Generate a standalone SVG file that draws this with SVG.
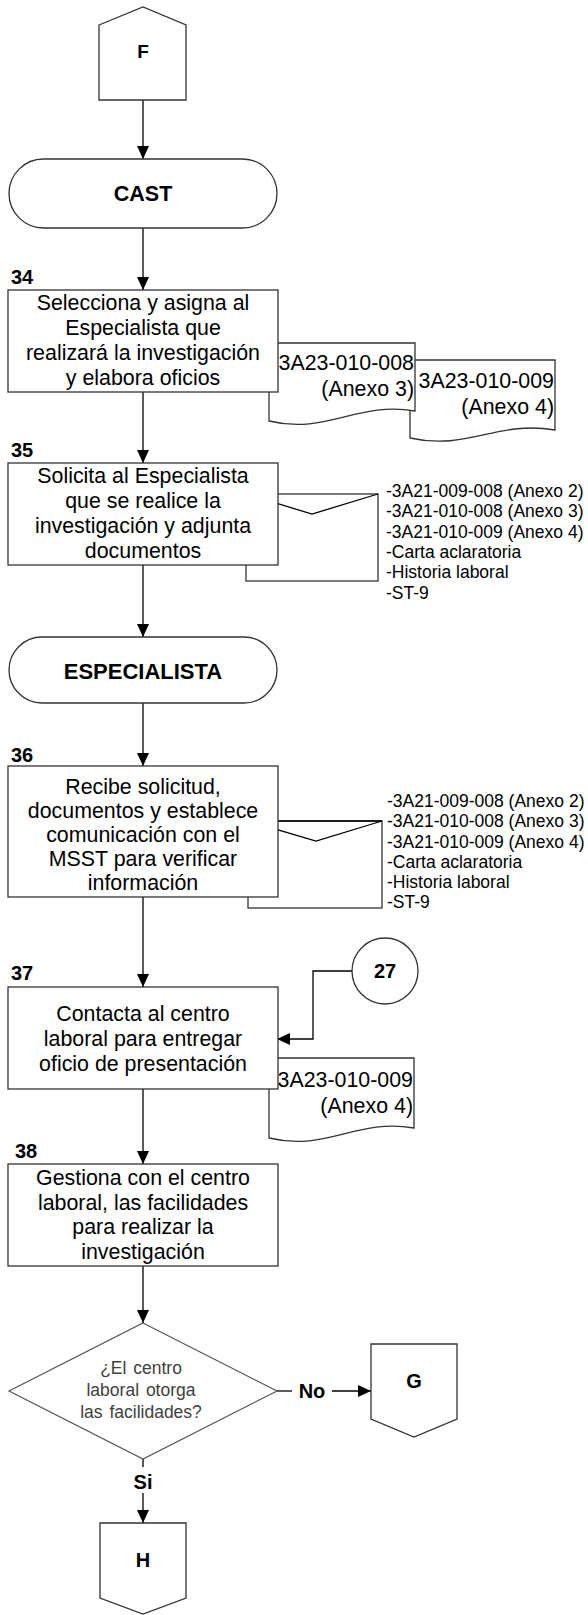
<svg xmlns="http://www.w3.org/2000/svg" width="588" height="1615" viewBox="0 0 588 1615">
  <defs>
    <marker id="arrow" viewBox="0 0 13 12" refX="13" refY="6" markerWidth="13" markerHeight="12" markerUnits="userSpaceOnUse" orient="auto">
      <path d="M0,0 L13,6 L0,12 Z" fill="#000"/>
    </marker>
    <style>
      .shape { fill: #fff; stroke: #333; stroke-width: 1.3; }
      .soft { fill: #fff; stroke: #555; stroke-width: 1.2; }
      .line { fill: none; stroke: #000; stroke-width: 1.3; }
      .flow { fill: none; stroke: #000; stroke-width: 1.3; marker-end: url(#arrow); }
      .txt { font-family: "Liberation Sans", Arial, sans-serif; font-size: 22.5px; fill: #000; text-anchor: middle; }
      .doc { font-family: "Liberation Sans", Arial, sans-serif; font-size: 22.5px; fill: #000; text-anchor: end; }
      .list { font-family: "Liberation Sans", Arial, sans-serif; font-size: 17.5px; fill: #000; }
      .q { font-family: "Liberation Sans", Arial, sans-serif; font-size: 17.5px; fill: #404040; text-anchor: middle; word-spacing: 2px; }
      .bold { font-family: "Liberation Sans", Arial, sans-serif; font-weight: bold; fill: #000; text-anchor: middle; }
      .num { font-family: "Liberation Sans", Arial, sans-serif; font-weight: bold; font-size: 20px; fill: #000; }
    </style>
  </defs>

  <!-- connectors -->
  <g id="connectors">
    <line class="flow" x1="143" y1="100" x2="143" y2="159"/>
    <line class="flow" x1="143" y1="228" x2="143" y2="290"/>
    <line class="flow" x1="143" y1="392" x2="143" y2="463"/>
    <line class="flow" x1="143" y1="565" x2="143" y2="637"/>
    <line class="flow" x1="143" y1="703" x2="143" y2="766"/>
    <line class="flow" x1="143" y1="897" x2="143" y2="987"/>
    <line class="flow" x1="143" y1="1089" x2="143" y2="1164"/>
    <line class="flow" x1="143" y1="1266" x2="143" y2="1323"/>
    <line class="line" x1="143" y1="1459" x2="143" y2="1467"/>
    <line class="flow" x1="143" y1="1493" x2="143" y2="1523"/>
    <line class="line" x1="277" y1="1391" x2="292" y2="1391"/>
    <line class="flow" x1="332" y1="1391" x2="371" y2="1391"/>
    <path class="flow" d="M352,971 H313 V1039 H277"/>
    <text class="bold" x="143" y="1489" font-size="20">Si</text>
    <text class="bold" x="312" y="1398" font-size="20">No</text>
  </g>

  <!-- off-page connector F -->
  <g id="node-F">
    <polygon class="shape" points="99,25 143,7 186,25 186,100 99,100"/>
    <text class="bold" x="143" y="58" font-size="19">F</text>
  </g>

  <!-- CAST terminal -->
  <g id="node-CAST">
    <rect class="shape" x="9" y="159" width="268" height="69" rx="34.5" ry="34.5"/>
    <text class="bold" x="143" y="201" font-size="21.5">CAST</text>
  </g>

  <!-- step 34 with its two documents -->
  <g id="node-34-docs">
    <path class="shape" d="M410,360 H555 V430 C497,420 468,451 410,438 Z"/>
    <g transform="translate(554 0) scale(0.95 1)">
      <text class="doc" x="0" y="388">3A23-010-009</text>
      <text class="doc" x="0" y="414">(Anexo 4)</text>
    </g>
    <path class="shape" d="M269,343 H415 V411 C357,401 327,435 269,421 Z"/>
    <g transform="translate(414 0) scale(0.95 1)">
      <text class="doc" x="0" y="370">3A23-010-008</text>
      <text class="doc" x="0" y="396">(Anexo 3)</text>
    </g>
  </g>
  <g id="node-34">
    <text class="num" x="11" y="284">34</text>
    <rect class="shape" x="8" y="290" width="270" height="102"/>
    <g transform="translate(143 0) scale(0.95 1)">
      <text class="txt" x="0" y="310">Selecciona y asigna al</text>
      <text class="txt" x="0" y="335">Especialista que</text>
      <text class="txt" x="0" y="360">realizará la investigación</text>
      <text class="txt" x="0" y="385">y elabora oficios</text>
    </g>
  </g>

  <!-- step 35 with mail envelope -->
  <g id="node-35-mail">
    <rect class="shape" x="246" y="494" width="132" height="87"/>
    <polyline class="line" points="246,494 312,514 378,494" stroke="#555"/>
    <text class="list" x="386" y="497">-3A21-009-008 (Anexo 2)</text>
    <text class="list" x="386" y="517">-3A21-010-008 (Anexo 3)</text>
    <text class="list" x="386" y="538">-3A21-010-009 (Anexo 4)</text>
    <text class="list" x="386" y="558">-Carta aclaratoria</text>
    <text class="list" x="386" y="578">-Historia laboral</text>
    <text class="list" x="386" y="599">-ST-9</text>
  </g>
  <g id="node-35">
    <text class="num" x="11" y="457">35</text>
    <rect class="shape" x="8" y="463" width="270" height="102"/>
    <g transform="translate(143 0) scale(0.95 1)">
      <text class="txt" x="0" y="483">Solicita al Especialista</text>
      <text class="txt" x="0" y="508">que se realice la</text>
      <text class="txt" x="0" y="533">investigación y adjunta</text>
      <text class="txt" x="0" y="558">documentos</text>
    </g>
  </g>

  <!-- ESPECIALISTA terminal -->
  <g id="node-ESPECIALISTA">
    <rect class="shape" x="9" y="637" width="268" height="66" rx="33" ry="33"/>
    <text class="bold" x="143" y="679" font-size="22">ESPECIALISTA</text>
  </g>

  <!-- step 36 with mail envelope -->
  <g id="node-36-mail">
    <rect class="shape" x="248" y="821" width="134" height="87"/>
    <line class="line" x1="248" y1="821" x2="382" y2="821" stroke-width="2.2"/>
    <polyline class="line" points="248,821 316,841 382,821" stroke="#555"/>
    <text class="list" x="387" y="807">-3A21-009-008 (Anexo 2)</text>
    <text class="list" x="387" y="827">-3A21-010-008 (Anexo 3)</text>
    <text class="list" x="387" y="848">-3A21-010-009 (Anexo 4)</text>
    <text class="list" x="387" y="868">-Carta aclaratoria</text>
    <text class="list" x="387" y="888">-Historia laboral</text>
    <text class="list" x="387" y="908">-ST-9</text>
  </g>
  <g id="node-36">
    <text class="num" x="11" y="762">36</text>
    <rect class="shape" x="8" y="766" width="270" height="131"/>
    <g transform="translate(143 0) scale(0.95 1)">
      <text class="txt" x="0" y="794">Recibe solicitud,</text>
      <text class="txt" x="0" y="818">documentos y establece</text>
      <text class="txt" x="0" y="842">comunicación con el</text>
      <text class="txt" x="0" y="866">MSST para verificar</text>
      <text class="txt" x="0" y="890">información</text>
    </g>
  </g>

  <!-- on-page connector 27 -->
  <g id="node-27">
    <circle class="shape" cx="385" cy="971" r="33"/>
    <text class="bold" x="385" y="978" font-size="20">27</text>
  </g>

  <!-- step 37 with its document -->
  <g id="node-37-doc">
    <path class="shape" d="M269,1058 H414 V1128 C356,1118 327,1152 269,1138 Z"/>
    <g transform="translate(413 0) scale(0.95 1)">
      <text class="doc" x="0" y="1087">3A23-010-009</text>
      <text class="doc" x="0" y="1113">(Anexo 4)</text>
    </g>
  </g>
  <g id="node-37">
    <text class="num" x="11" y="980">37</text>
    <rect class="shape" x="8" y="987" width="270" height="102"/>
    <g transform="translate(143 0) scale(0.95 1)">
      <text class="txt" x="0" y="1021">Contacta al centro</text>
      <text class="txt" x="0" y="1046">laboral para entregar</text>
      <text class="txt" x="0" y="1071">oficio de presentación</text>
    </g>
  </g>

  <!-- step 38 -->
  <g id="node-38">
    <text class="num" x="15" y="1158">38</text>
    <rect class="shape" x="8" y="1164" width="270" height="102"/>
    <g transform="translate(143 0) scale(0.95 1)">
      <text class="txt" x="0" y="1185">Gestiona con el centro</text>
      <text class="txt" x="0" y="1210">laboral, las facilidades</text>
      <text class="txt" x="0" y="1234">para realizar la</text>
      <text class="txt" x="0" y="1259">investigación</text>
    </g>
  </g>

  <!-- decision -->
  <g id="node-decision">
    <polygon class="soft" points="143,1323 277,1391 143,1459 9,1391"/>
    <text class="q" x="141" y="1374">¿El centro</text>
    <text class="q" x="141" y="1396">laboral otorga</text>
    <text class="q" x="141" y="1418">las facilidades?</text>
  </g>

  <!-- off-page connector G -->
  <g id="node-G">
    <polygon class="shape" points="371,1344 457,1344 457,1419 414,1437 371,1419"/>
    <text class="bold" x="414" y="1388" font-size="20">G</text>
  </g>

  <!-- off-page connector H -->
  <g id="node-H">
    <polygon class="shape" points="100,1523 186,1523 186,1598 143,1614 100,1598"/>
    <text class="bold" x="143" y="1567" font-size="20">H</text>
  </g>
</svg>
